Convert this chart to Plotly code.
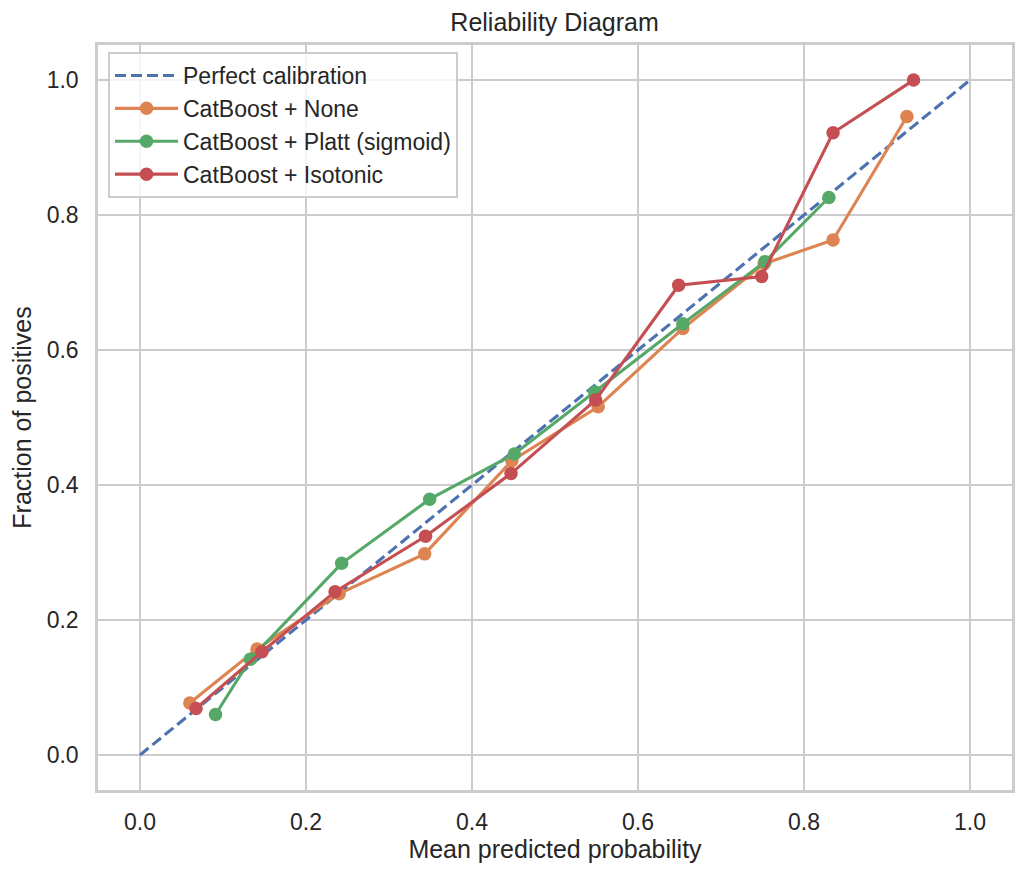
import plotly.graph_objects as go

# Data
perfect_x = [0.0, 1.0]
perfect_y = [0.0, 1.0]

none_x = [0.060, 0.141, 0.240, 0.343, 0.448, 0.552, 0.654, 0.752, 0.835, 0.924]
none_y = [0.077, 0.157, 0.239, 0.298, 0.436, 0.516, 0.632, 0.728, 0.763, 0.946]

platt_x = [0.091, 0.133, 0.243, 0.349, 0.451, 0.548, 0.654, 0.753, 0.830]
platt_y = [0.060, 0.142, 0.284, 0.379, 0.446, 0.538, 0.639, 0.731, 0.826]

iso_x = [0.0675, 0.147, 0.235, 0.344, 0.447, 0.549, 0.649, 0.749, 0.835, 0.932]
iso_y = [0.069, 0.153, 0.242, 0.324, 0.417, 0.526, 0.696, 0.709, 0.922, 1.000]

tick_vals = [0.0, 0.2, 0.4, 0.6, 0.8, 1.0]
tick_text = ["0.0", "0.2", "0.4", "0.6", "0.8", "1.0"]

BLUE, ORANGE, GREEN, RED = "#4C72B0", "#DD8452", "#55A868", "#C44E52"
TEXT = "#262626"
GRID = "#cccccc"
FONT = "Arial, Liberation Sans, sans-serif"

fig = go.Figure()
fig.add_trace(go.Scatter(x=perfect_x, y=perfect_y, mode="lines", name="Perfect calibration",
                         line=dict(color=BLUE, width=3.1, dash="11px,5px")))
for xs, ys, name, col in [(none_x, none_y, "CatBoost + None", ORANGE),
                          (platt_x, platt_y, "CatBoost + Platt (sigmoid)", GREEN),
                          (iso_x, iso_y, "CatBoost + Isotonic", RED)]:
    fig.add_trace(go.Scatter(x=xs, y=ys, mode="lines+markers", name=name,
                             line=dict(color=col, width=3.1),
                             marker=dict(color=col, size=13.5, line=dict(width=0))))

axis_common = dict(
    tickvals=tick_vals, ticktext=tick_text,
    showgrid=True, gridcolor=GRID, gridwidth=2,
    zeroline=False, showline=True, mirror=True, linecolor=GRID, linewidth=2.5,
    ticks="", tickfont=dict(size=23, color=TEXT, family=FONT),
)

fig.update_layout(
    width=1026, height=875,
    paper_bgcolor="white", plot_bgcolor="white",
    margin=dict(l=98, r=14, t=45, b=85),
    font=dict(family=FONT, color=TEXT),
    title=dict(text="Reliability Diagram", x=0.5405, xanchor="center",
               y=1 - 22 / 875, yanchor="middle", yref="container",
               font=dict(size=25, color=TEXT, family=FONT)),
    xaxis=dict(range=[-0.0506, 1.0506],
               title=dict(text="Mean predicted probability", font=dict(size=25, color=TEXT), standoff=4),
               ticklabelstandoff=10, **axis_common),
    yaxis=dict(range=[-0.0519, 1.052],
               title=dict(text="Fraction of positives", font=dict(size=25, color=TEXT), standoff=8),
               ticklabelstandoff=12, **axis_common),
    legend=dict(x=10 / 914, y=1 - 7 / 745, xanchor="left", yanchor="top",
                bgcolor="rgba(255,255,255,0.8)", bordercolor=GRID, borderwidth=2,
                font=dict(size=23, color=TEXT, family=FONT),
                itemwidth=63, tracegroupgap=0),
    showlegend=True,
)

fig.write_html("out.html")
